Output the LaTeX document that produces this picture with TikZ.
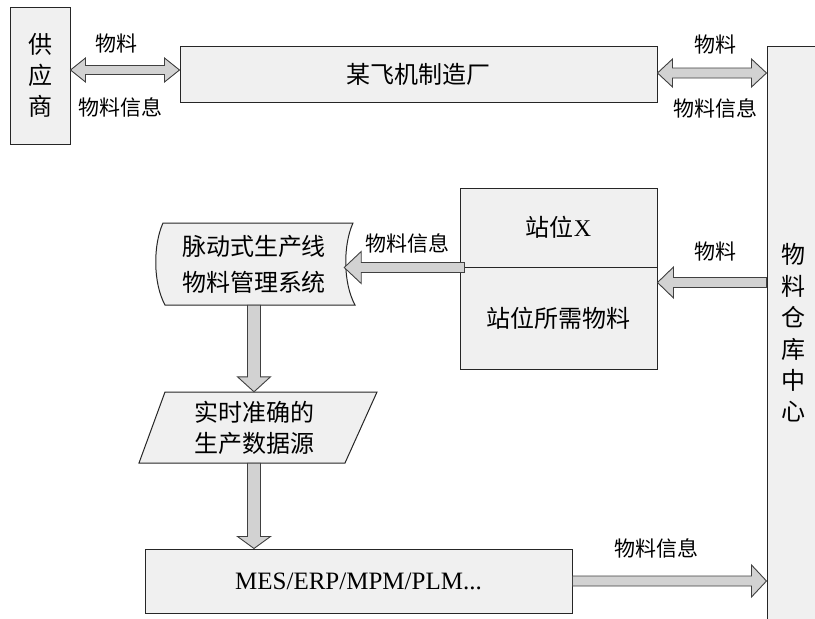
\documentclass[tikz,border=0pt]{standalone}
\usepackage{fontspec}
\setmainfont{Liberation Serif}
\newfontfamily\cjk{Noto Sans CJK SC}
\usetikzlibrary{calc}

\tikzset{
  box/.style={draw=black!85, fill=gray!12, line width=1pt, inner sep=0pt, anchor=center},
  ghost/.style={inner sep=0pt, anchor=center},
  arr/.style={draw=black!75, fill=gray!35, line width=0.9pt, line join=miter},
  lbl/.style={font=\fontsize{21}{24}\selectfont\cjk, inner sep=0pt},
  bigt/.style={font=\fontsize{24}{31}\selectfont\cjk, align=center},
}

% single block arrow: from #1 to #2, shaft half #3, head half #4, head length #5
\newcommand\blockarr[5]{%
  \coordinate (tmpA) at (#1);
  \coordinate (tmpB) at (#2);
  \coordinate (tmpH) at ($(tmpB)!#5!(tmpA)$);
  \draw[arr] ($(tmpA)!#3!90:(tmpB)$) -- ($(tmpH)!#3!90:(tmpB)$) -- ($(tmpH)!#4!90:(tmpB)$)
    -- (tmpB) -- ($(tmpH)!#4!-90:(tmpB)$) -- ($(tmpH)!#3!-90:(tmpB)$) -- ($(tmpA)!#3!-90:(tmpB)$) -- cycle;
}
% double block arrow
\newcommand\dblarr[5]{%
  \coordinate (tmpA) at (#1);
  \coordinate (tmpB) at (#2);
  \coordinate (tmpHa) at ($(tmpA)!#5!(tmpB)$);
  \coordinate (tmpHb) at ($(tmpB)!#5!(tmpA)$);
  \draw[arr] (tmpA) -- ($(tmpHa)!#4!90:(tmpB)$) -- ($(tmpHa)!#3!90:(tmpB)$) -- ($(tmpHb)!#3!90:(tmpB)$)
    -- ($(tmpHb)!#4!90:(tmpB)$) -- (tmpB) -- ($(tmpHb)!#4!-90:(tmpB)$) -- ($(tmpHb)!#3!-90:(tmpB)$)
    -- ($(tmpHa)!#3!-90:(tmpB)$) -- ($(tmpHa)!#4!-90:(tmpB)$) -- cycle;
}

\begin{document}
\begin{tikzpicture}[x=1pt,y=-1pt]
\useasboundingbox (0,0) rectangle (815,619);
\clip (0,0) rectangle (815,619);
\fill[white] (0,0) rectangle (815,619);

% boxes
\node[box, minimum width=60pt, minimum height=137pt, bigt] (sup) at (40,75.5) {供\\应\\商};
\node[box, minimum width=477pt, minimum height=56pt, bigt] (fac) at (418.5,74) {某飞机制造厂};
\node[box, minimum width=80pt, minimum height=614pt] (wh) at (807,353) {};
\node[ghost, bigt, font=\fontsize{24}{31.4}\selectfont\cjk] (whtext) at (793,333) {物\\料\\仓\\库\\中\\心};

\node[box, minimum width=197pt, minimum height=79pt, font=\fontsize{24}{30}\selectfont] (stX) at (558.5,227.5) {{\cjk 站位}X};
\node[box, minimum width=197pt, minimum height=102pt, bigt] (stM) at (558.5,318) {站位所需物料};

% tape (stored data) shape
\draw[draw=black!85, fill=gray!12, line width=1pt]
  (163,223) -- (353,223) .. controls (343,245) and (343,283) .. (355,305)
  -- (165,305) .. controls (153,283) and (153,245) .. (163,223) -- cycle;
\node[ghost, minimum width=180pt, minimum height=82pt, font=\fontsize{24}{36}\selectfont\cjk, align=center] (tape) at (254,264) {脉动式生产线\\物料管理系统};

% parallelogram
\draw[draw=black!85, fill=gray!12, line width=1pt]
  (139,463) -- (165,392) -- (377,392) -- (345,463) -- cycle;
\node[ghost, minimum width=200pt, minimum height=71pt, font=\fontsize{24}{31}\selectfont\cjk, align=center] (para) at (254,427.5) {实时准确的\\生产数据源};

\node[box, minimum width=427pt, minimum height=64pt, font=\fontsize{25}{30}\selectfont] (mes) at (358.5,581) {MES/ERP/MPM/PLM...};

% connector helper coordinates
\coordinate (la) at ([yshift=4pt]fac.west);
\coordinate (ra) at ([yshift=1pt]fac.east);
\coordinate (inS) at ([yshift=-16pt]stM.north east);
\coordinate (outS) at ([xshift=5pt]stX.south west);

% arrows
\dblarr{sup.east |- la}{la}{4.5pt}{12pt}{15pt}
\dblarr{fac.east |- ra}{wh.west |- ra}{5pt}{14pt}{15pt}
\blockarr{wh.west |- inS}{inS}{5pt}{15.5pt}{16pt}
\blockarr{outS}{tape.east |- outS}{5pt}{16pt}{17pt}
\blockarr{tape.south}{tape.south |- para.north}{6.5pt}{16.5pt}{15pt}
\blockarr{tape.south |- para.south}{tape.south |- mes.north}{6.5pt}{16.5pt}{12pt}
\blockarr{mes.east}{wh.west |- mes.east}{5pt}{16pt}{15pt}

% labels
\node[lbl] (l1) at (116,44) {物料};
\node[lbl] (l2) at (120,107) {物料信息};
\node[lbl] (l3) at (715,45) {物料};
\node[lbl] (l4) at (715,108) {物料信息};
\node[lbl] (l5) at (407,243) {物料信息};
\node[lbl] (l6) at (715,252) {物料};
\node[lbl] (l7) at (656,548) {物料信息};
\end{tikzpicture}
\end{document}
